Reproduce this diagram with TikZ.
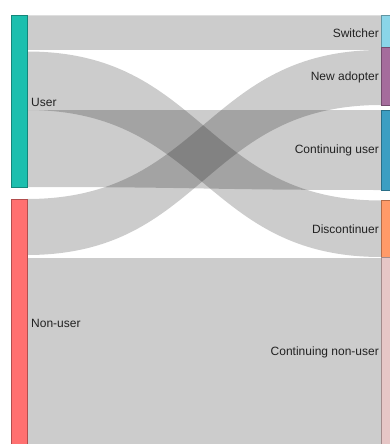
\documentclass[tikz,border=0pt]{standalone}
\usepackage{fontspec}
\setmainfont{Liberation Sans}
\definecolor{cUser}{HTML}{1CBFAE}
\definecolor{cNon}{HTML}{FF7070}
\definecolor{cSw}{HTML}{8AD5E8}
\definecolor{cNew}{HTML}{A56C9C}
\definecolor{cCont}{HTML}{3C9EC2}
\definecolor{cDis}{HTML}{FF9A68}
\definecolor{cCnu}{HTML}{E6C6C6}
\definecolor{txt}{HTML}{222222}
\tikzset{
  nodebar/.style={draw=#1!70!black, line width=0.4pt, fill=#1},
  flow/.style={fill=black, fill opacity=0.2, draw=none},
  lbl/.style={font=\fontsize{12}{14}\selectfont, text=txt, inner sep=0pt},
}
\newcommand{\flowband}[4]{%
  \fill[flow] (27,#1) .. controls (204,#1) and (204,#3) .. (381,#3)
    -- (381,#4) .. controls (204,#4) and (204,#2) .. (27,#2) -- cycle;}
\begin{document}
\begin{tikzpicture}[x=1pt,y=-1pt]
\useasboundingbox (0,0) rectangle (390,444);
\clip (0,0) rectangle (390,444);
% flows
\flowband{15.5}{50}{15.5}{50}
\flowband{51.5}{110}{200.5}{257}
\flowband{110}{187}{110}{190}
\flowband{199}{255}{50}{105}
\flowband{258}{460}{258}{460}
% left nodes
\node[nodebar=cUser, minimum width=16pt, minimum height=172pt, inner sep=0pt, anchor=north west] (user) at (11,15) {};
\node[nodebar=cNon, minimum width=16pt, minimum height=250pt, inner sep=0pt, anchor=north west] (nonuser) at (11,199) {};
% right nodes
\node[nodebar=cSw, minimum width=12pt, minimum height=32pt, inner sep=0pt, anchor=north west] (switcher) at (381,15) {};
\node[nodebar=cNew, minimum width=12pt, minimum height=58pt, inner sep=0pt, anchor=north west] (newad) at (381,47) {};
\node[nodebar=cCont, minimum width=12pt, minimum height=80pt, inner sep=0pt, anchor=north west] (contuser) at (381,110) {};
\node[nodebar=cDis, minimum width=12pt, minimum height=57pt, inner sep=0pt, anchor=north west] (discont) at (381,200) {};
\node[nodebar=cCnu, minimum width=12pt, minimum height=200pt, inner sep=0pt, anchor=north west] (contnon) at (381,257) {};
% labels
\node[lbl, anchor=west] (luser) at (31,102) {User};
\node[lbl, anchor=west] (lnon) at (31,323) {Non-user};
\node[lbl, anchor=east] (lsw) at (379,33) {Switcher};
\node[lbl, anchor=east] (lnew) at (379,77) {New adopter};
\node[lbl, anchor=east] (lcont) at (379,150) {Continuing user};
\node[lbl, anchor=east] (ldis) at (379,229) {Discontinuer};
\node[lbl, anchor=east] (lcnu) at (379,352) {Continuing non-user};
\end{tikzpicture}
\end{document}
